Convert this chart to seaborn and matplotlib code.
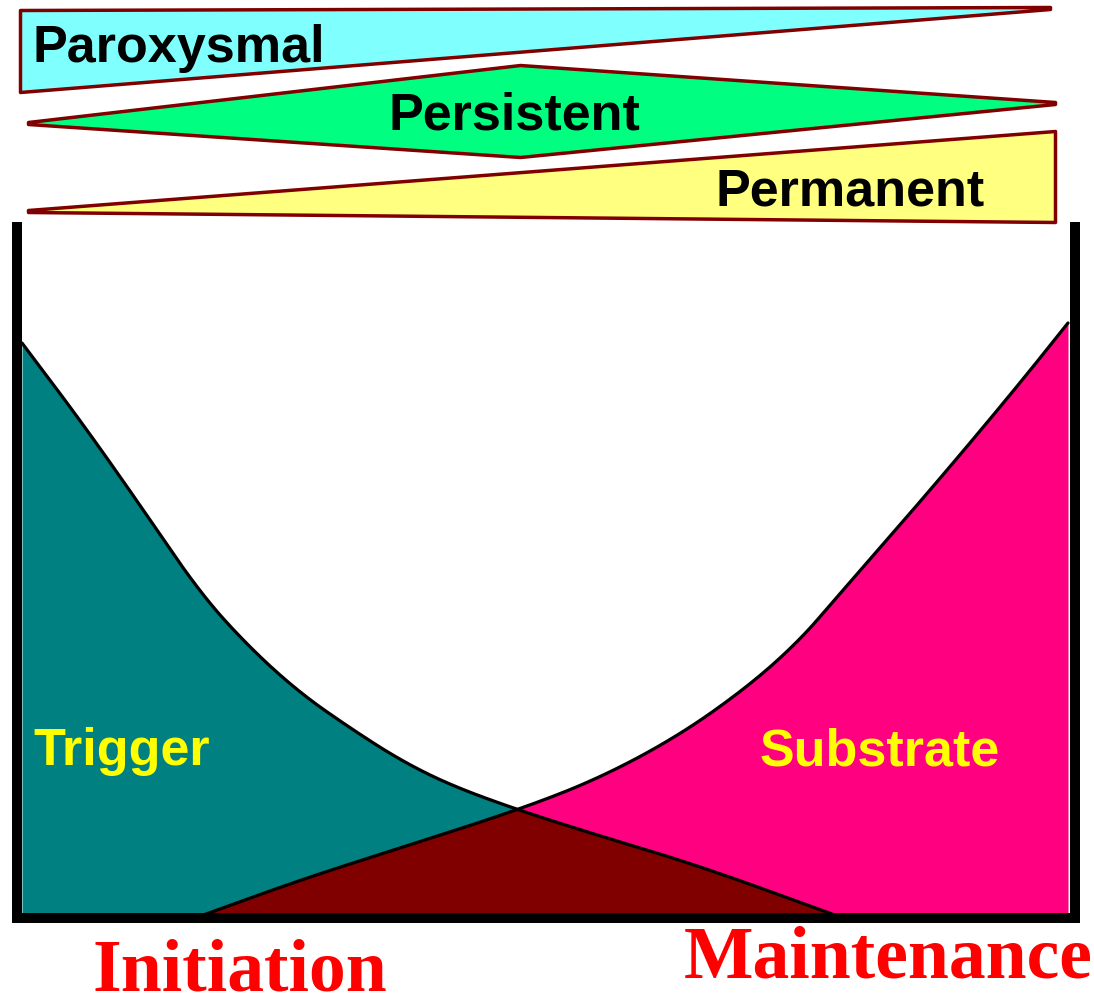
import numpy as np
import pandas as pd
import matplotlib
matplotlib.use("Agg")
import matplotlib.pyplot as plt
import seaborn as sns

# --- data (x in pixels, levels = height above the baseline) ---
trigger_x = [22, 80, 140, 200, 250, 300, 350, 400, 450, 518, 600, 700, 843]
trigger_lvl = [575, 498, 413, 325, 270, 225, 190, 158, 133, 108, 82, 52, 0]

substrate_x = [195, 300, 400, 518, 600, 680, 750, 800, 837, 900, 960, 1020, 1068]
substrate_lvl = [0, 38, 70, 108, 140, 183, 233, 278, 321, 393, 463, 535, 595]

# top bands (x, upper edge, lower edge) in pixel rows
parox_x = [20, 1050]
parox_top = [10, 7]
parox_bot = [92, 9]

persist_x = [28, 520, 1055]
persist_top = [122, 65, 102]
persist_bot = [124, 157, 104]

perm_x = [28, 1055]
perm_top = [210, 131]
perm_bot = [212, 222]

band_names = ["Paroxysmal", "Persistent", "Permanent"]
band_colors = ["#80FFFF", "#00FF80", "#FFFF80"]

W, H = 1094, 1005
sns.set_style("white")
plt.rcParams["font.family"] = ["Liberation Sans", "DejaVu Sans"]


def chaikin(x, y, n=4):
    # corner cutting so the hand-read polyline looks like a smooth curve
    p = np.column_stack([x, y]).astype(float)
    for _ in range(n):
        q = 0.75 * p[:-1] + 0.25 * p[1:]
        r = 0.25 * p[:-1] + 0.75 * p[1:]
        mid = np.empty((2 * len(q), 2))
        mid[0::2], mid[1::2] = q, r
        p = np.vstack([p[:1], mid, p[-1:]])
    return p[:, 0], p[:, 1]


fig = plt.figure(figsize=(W / 100, H / 100), dpi=100)
fig.patch.set_facecolor("white")

# bands live in a full-figure axes with pixel coordinates
bax = fig.add_axes([0, 0, 1, 1])
bax.set_xlim(0, W)
bax.set_ylim(H, 0)
bax.axis("off")
bax.patch.set_alpha(0)

bands = [(parox_x, parox_top, parox_bot), (persist_x, persist_top, persist_bot),
         (perm_x, perm_top, perm_bot)]
for (bx, btop, bbot), col in zip(bands, band_colors):
    bax.fill_between(bx, btop, bbot, facecolor=col, edgecolor="#800000", linewidth=2.5)

# main chart: axes frame is the black U
base, top = 918, 227
ax = fig.add_axes([17 / W, (H - base) / H, (1075 - 17) / W, (base - top) / H])
ax.set_xlim(17, 1075)
ax.set_ylim(0, base - top)
ax.patch.set_alpha(0)
ax.set_xticks([])
ax.set_yticks([])
ax.spines["top"].set_visible(False)
for s in ["left", "right", "bottom"]:
    ax.spines[s].set_linewidth(7.2)
    ax.spines[s].set_color("black")

tx, ty = chaikin(trigger_x, trigger_lvl)
sx, sy = chaikin(substrate_x, substrate_lvl)

ax.fill_between(tx, ty, 0, color="#008080", linewidth=0)
ax.fill_between(sx, sy, 0, color="#FF0080", linewidth=0)

# overlap under both curves
grid = np.linspace(substrate_x[0], trigger_x[-1], 600)
both = np.minimum(np.interp(grid, tx, ty), np.interp(grid, sx, sy))
ax.fill_between(grid, both, 0, color="#800000", linewidth=0)

df = pd.concat([
    pd.DataFrame({"x": tx, "lvl": ty, "s": "Trigger"}),
    pd.DataFrame({"x": sx, "lvl": sy, "s": "Substrate"}),
])
sns.lineplot(data=df, x="x", y="lvl", units="s", estimator=None, sort=False,
             color="black", linewidth=2.3, ax=ax, legend=False)
ax.set_xlabel("")
ax.set_ylabel("")


def put(x, y, s, **kw):
    fig.text(x / W, 1 - y / H, s, va="baseline", **kw)


sans = dict(family=["Liberation Sans", "DejaVu Sans"], weight="bold", fontsize=37.5)
put(32, 62, band_names[0], color="black", ha="left", **sans)
put(514, 130, band_names[1], color="black", ha="center", **sans)
put(850, 205, band_names[2], color="black", ha="center", **sans)

put(33, 765, "Trigger", color="#FFFF00", ha="left", **sans)
put(880, 765, "Substrate", color="#FFFF00", ha="center", **sans)

serif = dict(family=["Liberation Serif", "DejaVu Serif"], weight="bold", fontsize=53)
put(240, 990, "Initiation", color="#FF0000", ha="center", **serif)
put(888, 978, "Maintenance", color="#FF0000", ha="center", **serif)

fig.savefig("out.png", dpi=100, facecolor="white")
